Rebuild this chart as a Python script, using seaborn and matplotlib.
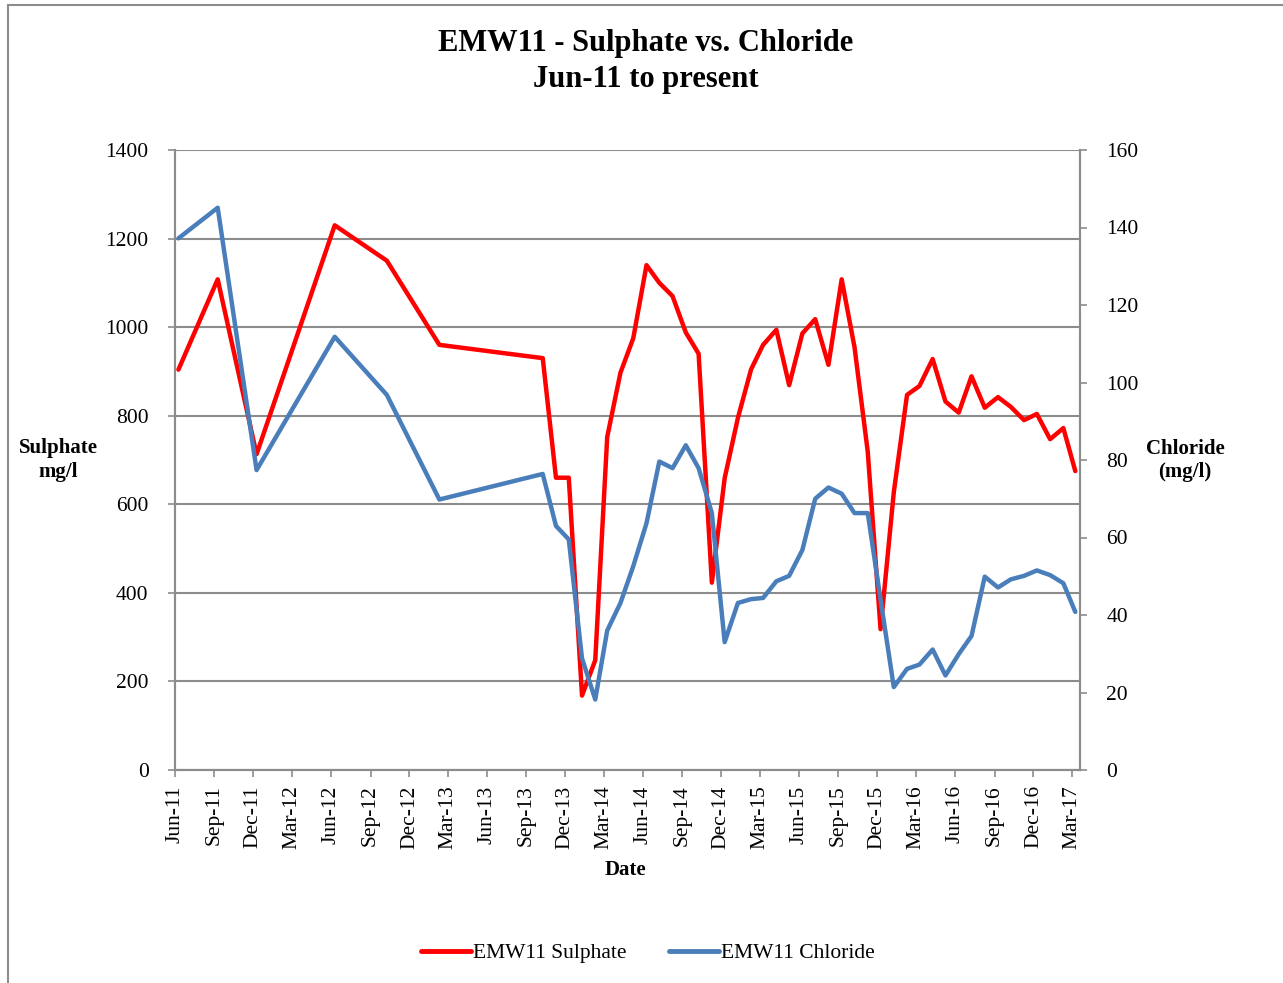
import pandas as pd
import matplotlib
matplotlib.use('Agg')
import matplotlib.pyplot as plt
import matplotlib.dates as mdates
from matplotlib.lines import Line2D
import seaborn as sns

# sample dates (monthly from Oct-13)
dates = ['2011-06', '2011-09', '2011-12', '2012-06', '2012-10', '2013-02',
         '2013-10', '2013-11', '2013-12',
         '2014-01', '2014-02', '2014-03', '2014-04', '2014-05', '2014-06',
         '2014-07', '2014-08', '2014-09', '2014-10', '2014-11', '2014-12',
         '2015-01', '2015-02', '2015-03', '2015-04', '2015-05', '2015-06',
         '2015-07', '2015-08', '2015-09', '2015-10', '2015-11', '2015-12',
         '2016-01', '2016-02', '2016-03', '2016-04', '2016-05', '2016-06',
         '2016-07', '2016-08', '2016-09', '2016-10', '2016-11', '2016-12',
         '2017-01', '2017-02', '2017-03']

sulphate = [904, 1108, 713, 1230, 1150, 960,
            930, 660, 660,
            168, 248, 752, 897, 975, 1140, 1100, 1070, 988, 940, 423, 659,
            795, 905, 960, 994, 869, 986, 1018, 915, 1108, 955, 719, 318,
            627, 847, 867, 928, 832, 807, 889, 818, 842, 820, 790, 804,
            747, 772, 675]

chloride = [137.2, 145.1, 77.4, 111.8, 96.8, 69.8,
            76.4, 63.0, 59.5,
            28.8, 18.2, 36.0, 43.1, 52.6, 63.7, 79.6, 77.9, 83.8, 77.9, 66.3, 33.0,
            43.1, 44.1, 44.4, 48.7, 50.1, 56.8, 70.0, 72.9, 71.3, 66.3, 66.3, 44.0,
            21.4, 26.1, 27.2, 31.1, 24.4, 29.9, 34.6, 49.9, 47.1, 49.2, 50.1, 51.5,
            50.3, 48.2, 40.8]

df = pd.DataFrame({
    'Date': pd.to_datetime(dates) + pd.Timedelta(days=8),
    'Sulphate': sulphate,
    'Chloride': chloride,
})

sns.set_style('white')
plt.rcParams['font.family'] = ['Liberation Serif', 'DejaVu Serif']
plt.rcParams['text.color'] = 'black'

RED = '#FF0000'
BLUE = '#4A7EBB'
GRID = '#8C8C8C'

fig = plt.figure(figsize=(12.83, 9.83), dpi=100)
ax = fig.add_axes([175 / 1283, 1 - 770 / 983, 905 / 1283, 620 / 983])
ax2 = ax.twinx()

sns.lineplot(data=df, x='Date', y='Sulphate', ax=ax, color=RED, linewidth=3.2)
sns.lineplot(data=df, x='Date', y='Chloride', ax=ax2, color=BLUE, linewidth=3.2)

ax.set_ylim(0, 1400)
ax.set_yticks(range(0, 1401, 200))
ax2.set_ylim(0, 160)
ax2.set_yticks(range(0, 161, 20))
ax.set_xlim(pd.Timestamp('2011-06-01'), pd.Timestamp('2017-03-20'))

ax.xaxis.set_major_locator(mdates.MonthLocator(bymonth=[3, 6, 9, 12], bymonthday=1))
ax.xaxis.set_major_formatter(mdates.DateFormatter('%b-%y'))
plt.setp(ax.get_xticklabels(), rotation=90)

ax.yaxis.grid(True, color=GRID, linewidth=1.5)
ax.set_axisbelow(True)
for a in (ax, ax2):
    for side in ('left', 'right', 'bottom'):
        a.spines[side].set_color(GRID)
        a.spines[side].set_linewidth(1.5)
    a.spines['top'].set_visible(False)
    a.tick_params(direction='out', length=5, width=1.2, color=GRID,
                  labelsize=15.5, labelcolor='black')
ax.tick_params(axis='y', left=True, pad=14)
ax2.tick_params(axis='y', pad=14)
ax.tick_params(axis='x', bottom=True, pad=6)

ax.set_xlabel('')
ax.set_ylabel('')
ax2.set_ylabel('')

fig.text(58 / 1283, 1 - 460 / 983, 'Sulphate\nmg/l', ha='center', va='center',
         fontsize=15, fontweight='bold')
fig.text(1185 / 1283, 1 - 460 / 983, 'Chloride\n(mg/l)', ha='center', va='center',
         fontsize=15, fontweight='bold')
fig.text(625 / 1283, 1 - 870 / 983, 'Date', ha='center', va='center',
         fontsize=15, fontweight='bold')
fig.text(646 / 1283, 1 - 43 / 983, 'EMW11 - Sulphate vs. Chloride',
         ha='center', va='center', fontsize=22, fontweight='bold')
fig.text(646 / 1283, 1 - 79 / 983, 'Jun-11 to present',
         ha='center', va='center', fontsize=22, fontweight='bold')

handles = [Line2D([], [], color=RED, linewidth=3.5),
           Line2D([], [], color=BLUE, linewidth=3.5)]
fig.legend(handles, ['EMW11 Sulphate', 'EMW11 Chloride'], loc='center',
           bbox_to_anchor=(648 / 1283, 1 - 953 / 983), ncol=2, frameon=False,
           fontsize=15.5, handlelength=2.3, handletextpad=0.1, columnspacing=2.0)

# outer chart frame
fig.add_artist(Line2D([8 / 1283, 8 / 1283], [0, 1 - 5 / 983], color=GRID, linewidth=1.5))
fig.add_artist(Line2D([8 / 1283, 1], [1 - 5 / 983, 1 - 5 / 983], color=GRID, linewidth=1.5))

fig.savefig('out.png', dpi=100)
